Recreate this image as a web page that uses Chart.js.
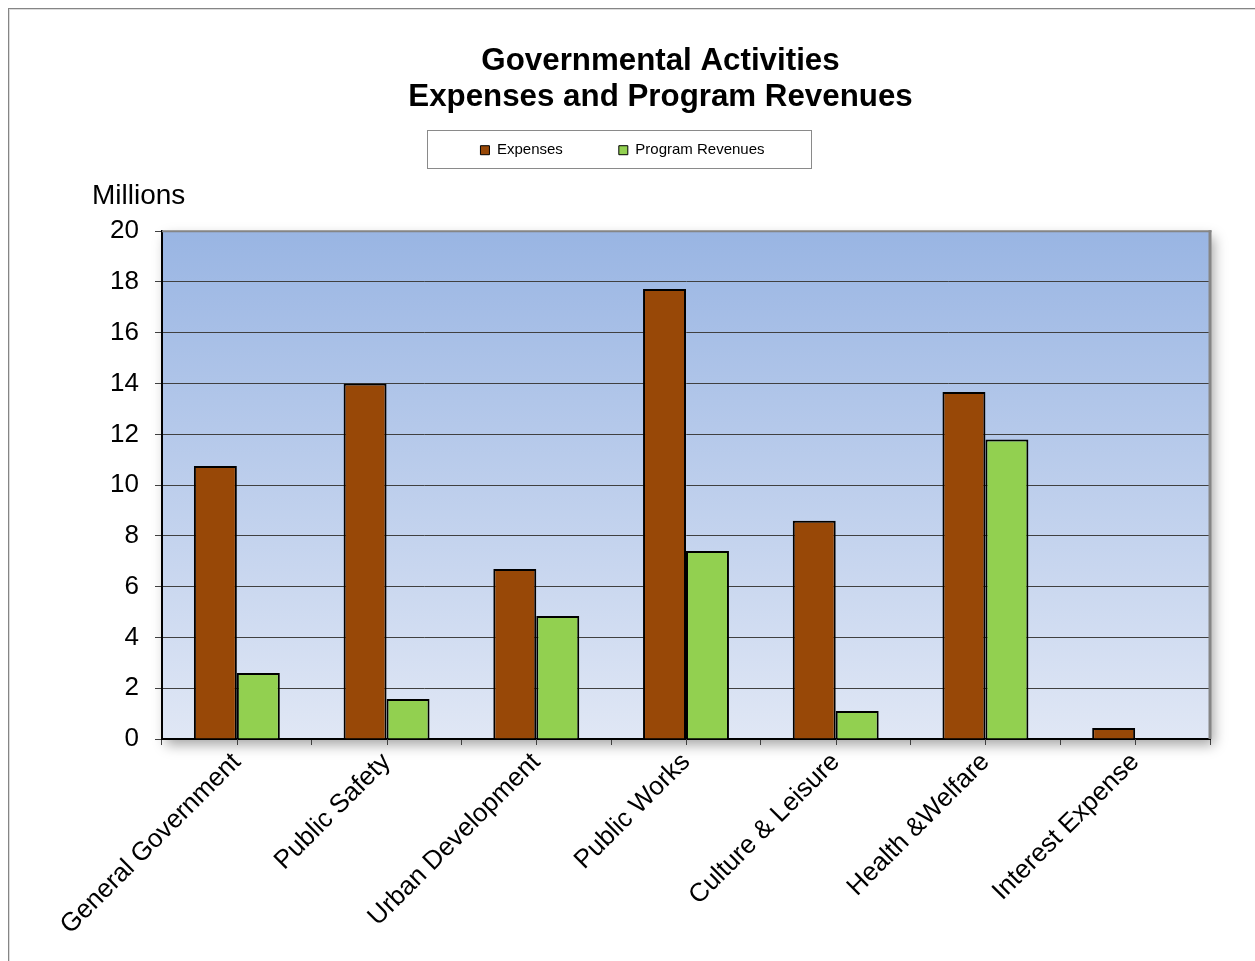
<!DOCTYPE html>
<html><head><meta charset="utf-8">
<script src="https://cdn.jsdelivr.net/npm/chart.js@4.4.1/dist/chart.umd.min.js"></script>
<style>
html,body{margin:0;padding:0;background:#fff;overflow:hidden;width:1255px;height:961px;}
#frame{position:absolute;left:8px;top:8px;width:1400px;height:1100px;border-left:1px solid #858585;border-top:1px solid #858585;box-shadow:inset 1px 1px 0 #dcdcdc;}
#c{position:absolute;left:9px;top:9px;}
</style></head><body>
<div id="frame"></div>
<canvas id="c" width="1302" height="952"></canvas>
<script>
const categories = ['General Government','Public Safety','Urban Development','Public Works','Culture & Leisure','Health &Welfare','Interest Expense'];
const expenses = [10.75, 14.0, 6.7, 17.72, 8.6, 13.67, 0.43];
const programRevenues = [2.6, 1.58, 4.84, 7.4, 1.1, 11.8, 0];
const seriesNames = ['Expenses','Program Revenues'];
const titleLines = ['Governmental Activities','Expenses and Program Revenues'];
const yUnitLabel = 'Millions';
const yMin = 0, yMax = 20, yStep = 2;

const FONT = "'Liberation Sans', Arial, Helvetica, sans-serif";

const framePlugin = {
  id: 'framePlugin',
  afterLayout(chart) {
    const t = chart.titleBlock;
    if (t) { t.left += 9.5; t.right += 9.5; }
    const lg = chart.legend;
    if (lg) { lg.left -= 28.5; lg.right -= 28.5; }
  },
  beforeDraw(chart) {
    const {ctx, chartArea: a} = chart;
    ctx.save();
    ctx.shadowColor = 'rgba(0,0,0,0.35)';
    ctx.shadowBlur = 12;
    ctx.shadowOffsetX = 4;
    ctx.shadowOffsetY = 6;
    const g = ctx.createLinearGradient(0, a.top, 0, a.bottom);
    g.addColorStop(0, '#99b5e3');
    g.addColorStop(1, '#e0e7f5');
    ctx.fillStyle = g;
    ctx.fillRect(a.left, a.top, a.right - a.left, a.bottom - a.top);
    ctx.restore();
  },
  afterDraw(chart) {
    const {ctx, chartArea: a} = chart;
    const xs = chart.scales.x;
    ctx.save();
    ctx.strokeStyle = '#858585';
    ctx.lineWidth = 2;
    ctx.beginPath();
    ctx.moveTo(a.left, a.top); ctx.lineTo(a.right + 1.5, a.top);
    ctx.stroke();
    ctx.lineWidth = 3;
    ctx.beginPath();
    ctx.moveTo(a.right, a.top - 1); ctx.lineTo(a.right, a.bottom);
    ctx.stroke();
    ctx.strokeStyle = '#404040';
    ctx.lineWidth = 1;
    for (let i = 0; i < categories.length; i++) {
      const x = Math.round(xs.getPixelForValue(i)) + 0.5;
      ctx.beginPath();
      ctx.moveTo(x, a.bottom); ctx.lineTo(x, a.bottom + 6);
      ctx.stroke();
    }
    const lg = chart.legend;
    if (lg) {
      const cx = (lg.left + lg.right) / 2;
      const cy = lg.top + lg.options.labels.padding + 7.5;
      ctx.strokeStyle = '#8a8a8a';
      ctx.lineWidth = 1;
      ctx.strokeRect(Math.round(cx - 195.5) + 0.5, Math.round(cy - 20) + 0.5, 384, 38);
    }
    ctx.restore();
  }
};

new Chart(document.getElementById('c'), {
  type: 'bar',
  data: {
    labels: categories,
    datasets: [
      { label: seriesNames[0], data: expenses, backgroundColor: '#984807', borderColor: '#000', borderWidth: 2 },
      { label: seriesNames[1], data: programRevenues, backgroundColor: '#92d050', borderColor: '#000', borderWidth: 2 }
    ]
  },
  options: {
    responsive: false,
    animation: false,
    devicePixelRatio: 1,
    categoryPercentage: 0.574,
    barPercentage: 1.0,
    layout: { padding: { left: 83, right: 101, top: 0, bottom: 22 } },
    plugins: {
      tooltip: { enabled: false },
      title: {
        display: true, text: titleLines, color: '#000',
        font: { family: FONT, size: 31.3, weight: 'bold', lineHeight: 1.16 },
        padding: { top: 34, bottom: -28.9 }
      },
      subtitle: {
        display: true, text: yUnitLabel, color: '#000', align: 'start', weight: 500,
        font: { family: FONT, size: 28, weight: 'normal', lineHeight: 1.2 },
        padding: { top: 11.8, bottom: 18.1 }
      },
      legend: {
        display: true, position: 'top',
        labels: {
          color: '#000', boxWidth: 9, boxHeight: 9, padding: 56,
          font: { family: FONT, size: 15 },
          generateLabels(chart) {
            const items = Chart.defaults.plugins.legend.labels.generateLabels(chart);
            items.forEach(it => { it.lineWidth = 1; it.strokeStyle = '#000'; });
            return items;
          }
        }
      }
    },
    scales: {
      x: {
        offset: true,
        grid: { display: true, offset: true, drawOnChartArea: false, drawTicks: true, tickLength: 6, color: '#404040', lineWidth: 1 },
        border: { display: true, color: '#000', width: 2 },
        ticks: { color: '#000', font: { family: FONT, size: 26 }, minRotation: 45, maxRotation: 45, padding: 2, autoSkip: false },
        afterFit(s) { s.height = 200; }
      },
      y: {
        min: yMin, max: yMax,
        grid: { color: '#404040', lineWidth: 1, tickLength: 7, drawTicks: true },
        border: { display: true, color: '#000', width: 2 },
        ticks: { stepSize: yStep, color: '#000', font: { family: FONT, size: 26 }, padding: 16 },
        afterFit(s) { s.width = 70; }
      }
    }
  },
  plugins: [framePlugin]
});
</script>
</body></html>
